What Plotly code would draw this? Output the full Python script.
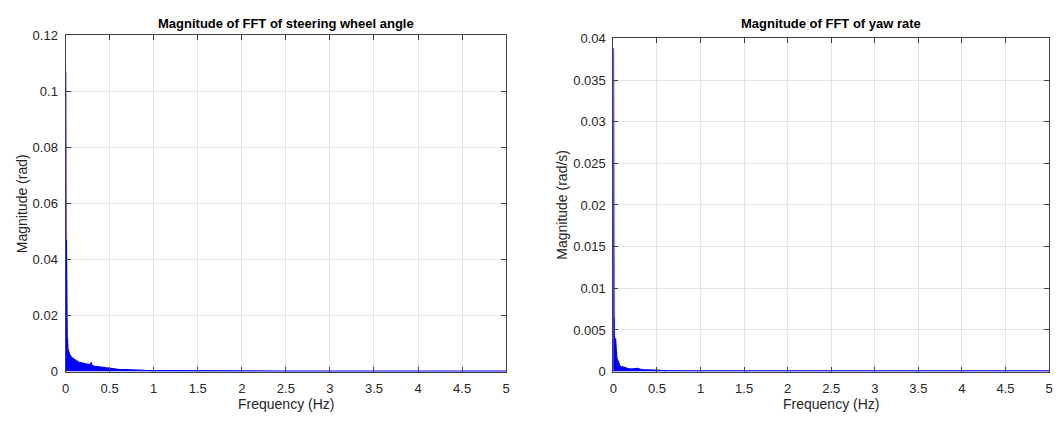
import plotly.graph_objects as go

# ---- data ----
sw_freq = [0, 0.002, 0.004, 0.006, 0.008, 0.010, 0.012, 0.014, 0.016, 0.018, 0.020,
           0.022, 0.024, 0.026, 0.028, 0.030, 0.033, 0.036, 0.040, 0.045, 0.050,
           0.055, 0.060, 0.070, 0.080, 0.090, 0.100, 0.110, 0.120, 0.130, 0.140,
           0.150, 0.170, 0.190, 0.210, 0.230, 0.250, 0.270, 0.280, 0.290, 0.300,
           0.320, 0.350, 0.380, 0.400, 0.450, 0.500, 0.550, 0.600, 0.650, 0.700,
           0.800, 0.900, 1.000, 1.200, 1.500, 2.000, 2.500, 3.000, 3.500, 4.000,
           4.500, 5.000]
sw_mag = [0.0, 0.107, 0.02, 0.094, 0.015, 0.047, 0.012, 0.030, 0.010, 0.029, 0.009,
          0.012, 0.008, 0.009, 0.007, 0.008, 0.0075, 0.007, 0.0068, 0.0062, 0.0058,
          0.0058, 0.0052, 0.0052, 0.0046, 0.0047, 0.0041, 0.0042, 0.0037, 0.0038, 0.0035,
          0.0033, 0.0032, 0.003, 0.003, 0.0028, 0.0027, 0.0026, 0.0024, 0.0033, 0.0022,
          0.002, 0.0019, 0.0017, 0.0016, 0.0014, 0.0012, 0.001, 0.0008, 0.0007, 0.0006,
          0.0005, 0.0004, 0.00035, 0.0003, 0.00025, 0.00022, 0.0002, 0.0002, 0.0002, 0.0002,
          0.0002, 0.0002]

yaw_freq = [0, 0.002, 0.004, 0.006, 0.008, 0.010, 0.012, 0.014, 0.016, 0.018, 0.020,
            0.025, 0.030, 0.035, 0.040, 0.045, 0.050, 0.060, 0.070, 0.080, 0.090,
            0.100, 0.120, 0.140, 0.160, 0.200, 0.250, 0.280, 0.300, 0.350, 0.400,
            0.500, 0.600, 0.800, 1.000, 1.500, 2.000, 2.500, 3.000, 3.500, 4.000,
            4.500, 5.000]
yaw_mag = [0.0, 0.0388, 0.006, 0.0125, 0.004, 0.0065, 0.003, 0.0055, 0.004, 0.0045, 0.0035,
           0.004, 0.0028, 0.0022, 0.0016, 0.0015, 0.0013, 0.0009, 0.0008, 0.0006, 0.0005,
           0.0006, 0.0005, 0.0004, 0.0004, 0.0003, 0.0004, 0.0004, 0.0003, 0.0002, 0.0002,
           0.00015, 0.00012, 0.0001, 0.0001, 0.0001, 0.0001, 0.0001, 0.0001, 0.0001, 0.0001,
           0.0001, 0.0001]

x_ticks = [0, 0.5, 1, 1.5, 2, 2.5, 3, 3.5, 4, 4.5, 5]
x_ticktext = ["0", "0.5", "1", "1.5", "2", "2.5", "3", "3.5", "4", "4.5", "5"]
sw_yticks = [0, 0.02, 0.04, 0.06, 0.08, 0.1, 0.12]
sw_yticktext = ["0", "0.02", "0.04", "0.06", "0.08", "0.1", "0.12"]
yaw_yticks = [0, 0.005, 0.01, 0.015, 0.02, 0.025, 0.03, 0.035, 0.04]
yaw_yticktext = ["0", "0.005", "0.01", "0.015", "0.02", "0.025", "0.03", "0.035", "0.04"]

titles = ["Magnitude of FFT of steering wheel angle", "Magnitude of FFT of yaw rate"]
x_title = "Frequency (Hz)"
y_titles = ["Magnitude (rad)", "Magnitude (rad/s)"]

# ---- figure ----
W, H = 1060, 423
BLUE = "#0000ff"
FONT = "Liberation Sans, Arial, sans-serif"

fig = go.Figure()
fig.add_trace(go.Scatter(x=sw_freq, y=sw_mag, mode="lines", fill="tozeroy",
                         fillcolor=BLUE, line=dict(color=BLUE, width=1.2),
                         xaxis="x", yaxis="y", showlegend=False, hoverinfo="x+y"))
fig.add_trace(go.Scatter(x=yaw_freq, y=yaw_mag, mode="lines", fill="tozeroy",
                         fillcolor=BLUE, line=dict(color=BLUE, width=1.2),
                         xaxis="x2", yaxis="y2", showlegend=False, hoverinfo="x+y"))

# plot boxes in pixels
box1 = dict(l=62, r=506, t=29, b=378)
box2 = dict(l=614, r=1053, t=32.5, b=378)


def dom_x(b):
    return [b["l"] / W, b["r"] / W]


def dom_y(b):
    return [1 - b["b"] / H, 1 - b["t"] / H]


axis_common = dict(
    showgrid=True, gridcolor="#e3e3e3", gridwidth=1,
    showline=True, linecolor="#404040", linewidth=1, mirror="ticks",
    ticks="inside", ticklen=5, tickcolor="#404040", tickwidth=1,
    zeroline=False, tickfont=dict(family=FONT, size=13, color="#262626"),
)

fig.update_layout(
    width=W, height=H, margin=dict(l=0, r=0, t=0, b=0),
    paper_bgcolor="white", plot_bgcolor="white",
    xaxis=dict(domain=dom_x(box1), anchor="y", range=[0, 5], tickmode="array",
               tickvals=x_ticks, ticktext=x_ticktext, ticklabelstandoff=5, **axis_common),
    yaxis=dict(domain=dom_y(box1), anchor="x", range=[0, 0.12], tickmode="array",
               tickvals=sw_yticks, ticktext=sw_yticktext, ticklabelstandoff=4, **axis_common),
    xaxis2=dict(domain=dom_x(box2), anchor="y2", range=[0, 5], tickmode="array",
                tickvals=x_ticks, ticktext=x_ticktext, ticklabelstandoff=5, **axis_common),
    yaxis2=dict(domain=dom_y(box2), anchor="x2", range=[0, 0.04], tickmode="array",
                tickvals=yaw_yticks, ticktext=yaw_yticktext, ticklabelstandoff=4, **axis_common),
)

ann = []
for b, t in zip([box1, box2], titles):
    ann.append(dict(text="<b>" + t + "</b>", x=(b["l"] + b["r"]) / 2 / W, y=1 - 17 / H,
                    xref="paper", yref="paper", xanchor="center", yanchor="middle",
                    showarrow=False, font=dict(family=FONT, size=13, color="black")))
    ann.append(dict(text=x_title, x=(b["l"] + b["r"]) / 2 / W, y=1 - 412 / H,
                    xref="paper", yref="paper", xanchor="center", yanchor="middle",
                    showarrow=False, font=dict(family=FONT, size=14, color="#262626")))
ann.append(dict(text=y_titles[0], x=18 / W, y=1 - (box1["t"] + box1["b"]) / 2 / H,
                xref="paper", yref="paper", xanchor="center", yanchor="middle",
                textangle=-90, showarrow=False,
                font=dict(family=FONT, size=14, color="#262626")))
ann.append(dict(text=y_titles[1], x=562 / W, y=1 - (box2["t"] + box2["b"]) / 2 / H,
                xref="paper", yref="paper", xanchor="center", yanchor="middle",
                textangle=-90, showarrow=False,
                font=dict(family=FONT, size=14, color="#262626")))
fig.update_layout(annotations=ann)

fig.write_html("out.html")
